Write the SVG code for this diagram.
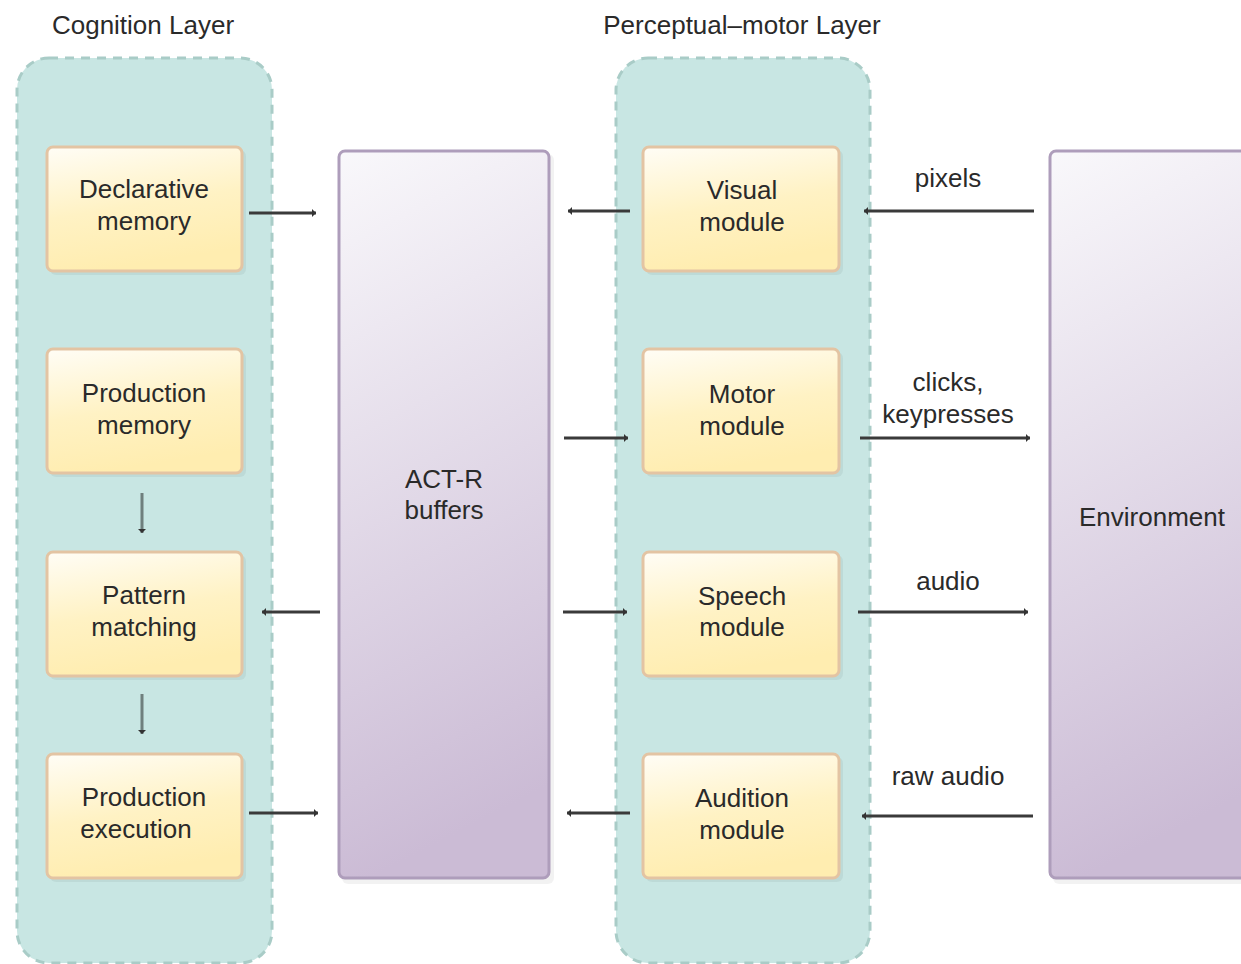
<svg xmlns="http://www.w3.org/2000/svg" width="1241" height="964" viewBox="0 0 1241 964">
  <defs>
    <linearGradient id="nodeFill" x1="0" y1="0" x2="0.25" y2="1">
      <stop offset="0" stop-color="#fffdf6"/>
      <stop offset="0.55" stop-color="#fff2c4"/>
      <stop offset="1" stop-color="#ffedb0"/>
    </linearGradient>
    <linearGradient id="barFill" x1="0" y1="0" x2="0.15" y2="1">
      <stop offset="0" stop-color="#f9f8fb"/>
      <stop offset="1" stop-color="#cbbbd5"/>
    </linearGradient>
    <marker id="head" markerWidth="6" markerHeight="8" refX="4" refY="4" orient="auto" markerUnits="userSpaceOnUse">
      <path d="M0,0 L4,4 L0,8 Z" fill="#333"/>
    </marker>
    <style>
      .layer { fill: #c8e6e3; stroke: #a9ccc7; stroke-width: 3; stroke-dasharray: 9 7; }
      .node { fill: url(#nodeFill); stroke: #e3c4a3; stroke-width: 3; }
      .shadow { fill: #000; opacity: 0.05; }
      .bar { fill: url(#barFill); stroke: #ae9dbb; stroke-width: 3; }
      .label { font-family: "Liberation Sans", Arial, sans-serif; font-size: 26px; fill: #2a2a2a; text-anchor: middle; }
      .edge { stroke: #3a3a3a; stroke-width: 3; fill: none; marker-end: url(#head); }
      .vedge { stroke: #6f7f7d; stroke-width: 3; fill: none; marker-end: url(#head); }
    </style>
  </defs>

  <rect width="1241" height="964" fill="#ffffff"/>

  <!-- layer containers -->
  <g id="cognition-layer">
    <rect class="layer" x="17" y="58" width="255" height="905" rx="32"/>
    <text class="label" x="143" y="34">Cognition Layer</text>
  </g>
  <g id="perceptual-motor-layer">
    <rect class="layer" x="616" y="58" width="254" height="905" rx="32"/>
    <text class="label" x="742" y="34">Perceptual–motor Layer</text>
  </g>

  <!-- cognition nodes -->
  <g id="declarative-memory">
    <rect class="shadow" x="50" y="150" width="196" height="125" rx="6"/>
    <rect class="node" x="47" y="147" width="195" height="124" rx="6"/>
    <text class="label" x="144" y="198">Declarative</text>
    <text class="label" x="144" y="230">memory</text>
  </g>
  <g id="production-memory">
    <rect class="shadow" x="50" y="352" width="196" height="125" rx="6"/>
    <rect class="node" x="47" y="349" width="195" height="124" rx="6"/>
    <text class="label" x="144" y="402">Production</text>
    <text class="label" x="144" y="434">memory</text>
  </g>
  <g id="pattern-matching">
    <rect class="shadow" x="50" y="555" width="196" height="125" rx="6"/>
    <rect class="node" x="47" y="552" width="195" height="124" rx="6"/>
    <text class="label" x="144" y="604">Pattern</text>
    <text class="label" x="144" y="636">matching</text>
  </g>
  <g id="production-execution">
    <rect class="shadow" x="50" y="757" width="196" height="125" rx="6"/>
    <rect class="node" x="47" y="754" width="195" height="124" rx="6"/>
    <text class="label" x="144" y="806">Production</text>
    <text class="label" x="136" y="838">execution</text>
  </g>

  <!-- buffers -->
  <g id="act-r-buffers">
    <rect class="shadow" x="342" y="154" width="212" height="730" rx="6"/>
    <rect class="bar" x="339" y="151" width="210" height="727" rx="6"/>
    <text class="label" x="444" y="488">ACT-R</text>
    <text class="label" x="444" y="519">buffers</text>
  </g>

  <!-- perceptual-motor nodes -->
  <g id="visual-module">
    <rect class="shadow" x="646" y="150" width="197" height="125" rx="6"/>
    <rect class="node" x="643" y="147" width="196" height="124" rx="6"/>
    <text class="label" x="742" y="199">Visual</text>
    <text class="label" x="742" y="231">module</text>
  </g>
  <g id="motor-module">
    <rect class="shadow" x="646" y="352" width="197" height="125" rx="6"/>
    <rect class="node" x="643" y="349" width="196" height="124" rx="6"/>
    <text class="label" x="742" y="403">Motor</text>
    <text class="label" x="742" y="435">module</text>
  </g>
  <g id="speech-module">
    <rect class="shadow" x="646" y="555" width="197" height="125" rx="6"/>
    <rect class="node" x="643" y="552" width="196" height="124" rx="6"/>
    <text class="label" x="742" y="605">Speech</text>
    <text class="label" x="742" y="636">module</text>
  </g>
  <g id="audition-module">
    <rect class="shadow" x="646" y="757" width="197" height="125" rx="6"/>
    <rect class="node" x="643" y="754" width="196" height="124" rx="6"/>
    <text class="label" x="742" y="807">Audition</text>
    <text class="label" x="742" y="839">module</text>
  </g>

  <!-- environment -->
  <g id="environment">
    <rect class="shadow" x="1053" y="154" width="212" height="730" rx="6"/>
    <rect class="bar" x="1050" y="151" width="212" height="727" rx="6"/>
    <text class="label" x="1152" y="526">Environment</text>
  </g>

  <!-- connectors -->
  <g id="connectors">
    <line class="edge" x1="249" y1="213" x2="316" y2="213"/>
    <line class="edge" x1="630" y1="211" x2="568" y2="211"/>
    <line class="edge" x1="1034" y1="211" x2="864" y2="211"/>
    <line class="edge" x1="564" y1="438" x2="628" y2="438"/>
    <line class="edge" x1="860" y1="438" x2="1030" y2="438"/>
    <line class="edge" x1="320" y1="612" x2="262" y2="612"/>
    <line class="edge" x1="563" y1="612" x2="627" y2="612"/>
    <line class="edge" x1="858" y1="612" x2="1028" y2="612"/>
    <line class="edge" x1="249" y1="813" x2="318" y2="813"/>
    <line class="edge" x1="630" y1="813" x2="567" y2="813"/>
    <line class="edge" x1="1033" y1="816" x2="862" y2="816"/>
    <line class="vedge" x1="142" y1="493" x2="142" y2="533"/>
    <line class="vedge" x1="142" y1="694" x2="142" y2="734"/>
    <text class="label" x="948" y="187">pixels</text>
    <text class="label" x="948" y="391">clicks,</text>
    <text class="label" x="948" y="423">keypresses</text>
    <text class="label" x="948" y="590">audio</text>
    <text class="label" x="948" y="785">raw audio</text>
  </g>
</svg>
